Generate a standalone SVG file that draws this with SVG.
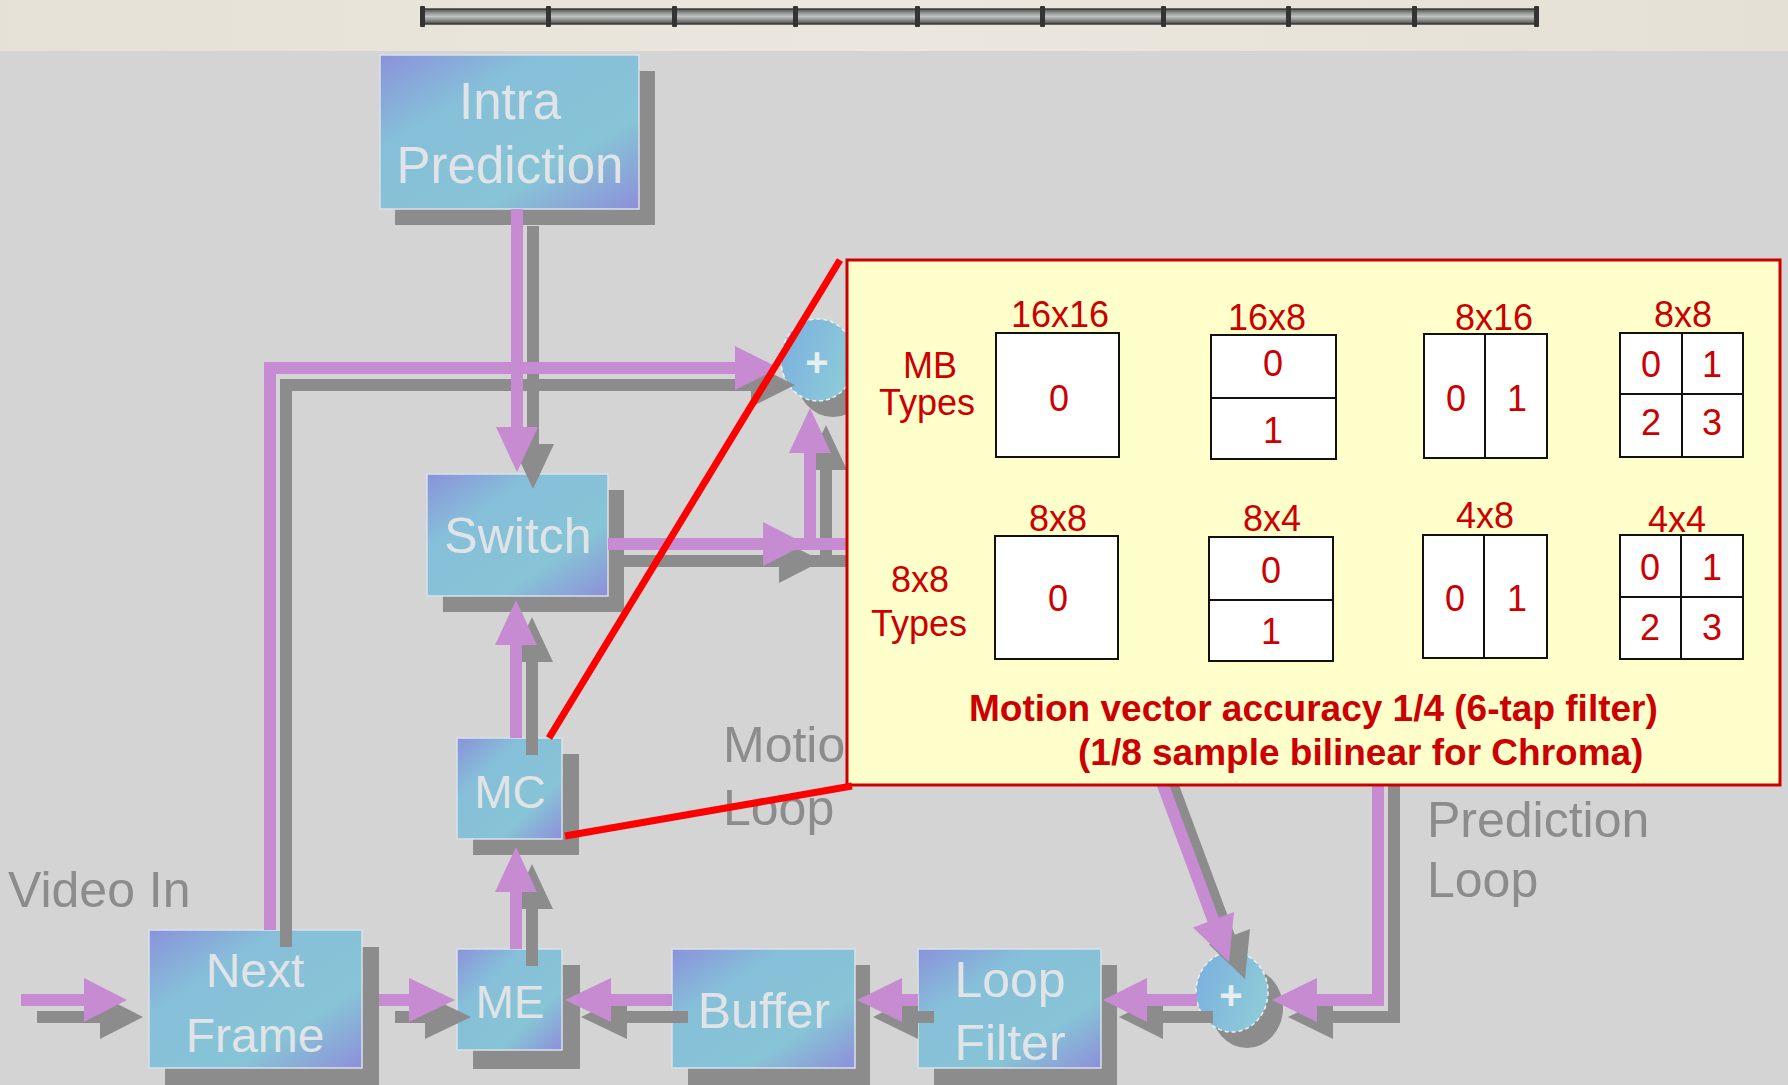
<svg xmlns="http://www.w3.org/2000/svg" xmlns:xlink="http://www.w3.org/1999/xlink" width="1788" height="1085" viewBox="0 0 1788 1085">
<defs>
<style>
.box{fill:url(#boxg);stroke:#d9e1ea;stroke-width:1.5}
.shd{fill:#8c8c8c}
.nt{font-family:"Liberation Sans",Arial,sans-serif;fill:#e0e4e6;text-anchor:middle}
.gl{font-family:"Liberation Sans",Arial,sans-serif;fill:#8c8c8c;font-size:50px}
.rt{font-family:"Liberation Sans",Arial,sans-serif;fill:#cc0000;font-size:36px;text-anchor:middle}
.rb{font-family:"Liberation Sans",Arial,sans-serif;fill:#cc0000;font-size:37px;font-weight:bold}
.cell{fill:#ffffff;stroke:#111;stroke-width:2}
.dv{stroke:#111;stroke-width:2}
.plus{font-family:"Liberation Sans",Arial,sans-serif;fill:#e6eef0;font-size:40px;font-weight:bold;text-anchor:middle}
.seg{fill:url(#barg);stroke:#3c3c3c;stroke-width:1.5}
.sep{fill:#333}
</style>
<linearGradient id="boxg" x1="0" y1="0" x2="1" y2="1">
<stop offset="0" stop-color="#8a92da"/>
<stop offset="0.3" stop-color="#86bfd9"/>
<stop offset="0.7" stop-color="#87c4d6"/>
<stop offset="1" stop-color="#8d8fda"/>
</linearGradient>
<linearGradient id="circg" x1="0" y1="0" x2="1" y2="0.4">
<stop offset="0" stop-color="#7aaee0"/>
<stop offset="1" stop-color="#8ccad8"/>
</linearGradient>
<linearGradient id="barg" x1="0" y1="0" x2="0" y2="1">
<stop offset="0" stop-color="#4e4e4e"/>
<stop offset="0.3" stop-color="#9c9c9c"/>
<stop offset="0.5" stop-color="#c2c2c2"/>
<stop offset="0.75" stop-color="#8a8a8a"/>
<stop offset="1" stop-color="#474747"/>
</linearGradient>
<linearGradient id="beige" x1="0" y1="0" x2="1" y2="0">
<stop offset="0" stop-color="#e6e1d6"/>
<stop offset="0.5" stop-color="#ebe7de"/>
<stop offset="1" stop-color="#e5e0d5"/>
</linearGradient>
<g id="wires">
<path fill="none" stroke-width="12" d="M270,930 V368 H740"/>
<polygon stroke="none" points="735,346 779,368 735,390"/>
<path fill="none" stroke-width="12" d="M517,209 V430"/>
<polygon stroke="none" points="496,427 517,472 538,427"/>
<path fill="none" stroke-width="12" d="M608,544 H900"/>
<polygon stroke="none" points="763,522 806,544 763,566"/>
<path fill="none" stroke-width="12" d="M810,550 V450"/>
<polygon stroke="none" points="789,453 810,408 831,453"/>
<path fill="none" stroke-width="12" d="M516,738 V640"/>
<polygon stroke="none" points="495,645 516,600 537,645"/>
<path fill="none" stroke-width="12" d="M516,949 V888"/>
<polygon stroke="none" points="495,892 516,847 537,892"/>
<path fill="none" stroke-width="12" d="M21,1000 H90"/>
<polygon stroke="none" points="84,978 127,1000 84,1022"/>
<path fill="none" stroke-width="12" d="M379,1000 H412"/>
<polygon stroke="none" points="409,978 455,1000 409,1022"/>
<path fill="none" stroke-width="12" d="M672,1000 H608"/>
<polygon stroke="none" points="611,978 565,1000 611,1022"/>
<path fill="none" stroke-width="12" d="M918,1000 H898"/>
<polygon stroke="none" points="902,978 857,1000 902,1022"/>
<path fill="none" stroke-width="12" d="M1197,1000 H1143"/>
<polygon stroke="none" points="1147,978 1103,1000 1147,1022"/>
<path fill="none" stroke-width="12" d="M1378,700 V1000 H1312"/>
<polygon stroke="none" points="1317,978 1272,1000 1317,1022"/>
<path fill="none" stroke-width="12" d="M1138,718 L1214,922"/>
<polygon stroke="none" points="1234,912 1229,962 1193,927.5"/>
</g>
</defs>

<rect x="0" y="0" width="1788" height="1085" fill="#d4d4d4"/>
<rect x="0" y="0" width="1788" height="51" fill="url(#beige)"/>
<g id="bar">
<rect class="seg" x="422" y="9" width="1115" height="15" rx="3"/>
<rect class="sep" x="420" y="6" width="5" height="21" rx="1"/>
<rect class="sep" x="546" y="6" width="5" height="21" rx="1"/>
<rect class="sep" x="672" y="6" width="5" height="21" rx="1"/>
<rect class="sep" x="793" y="6" width="5" height="21" rx="1"/>
<rect class="sep" x="915" y="6" width="5" height="21" rx="1"/>
<rect class="sep" x="1040" y="6" width="5" height="21" rx="1"/>
<rect class="sep" x="1161" y="6" width="5" height="21" rx="1"/>
<rect class="sep" x="1286" y="6" width="5" height="21" rx="1"/>
<rect class="sep" x="1412" y="6" width="5" height="21" rx="1"/>
<rect class="sep" x="1534" y="6" width="5" height="21" rx="1"/>
</g>

<g id="node-intra">
<rect class="shd" x="395" y="71" width="260" height="154"/>
<rect class="box" x="380" y="55" width="259" height="154"/>
<text class="nt" x="510" y="119" font-size="51">Intra</text>
<text class="nt" x="510" y="183" font-size="51">Prediction</text>
</g>
<g id="node-switch">
<rect class="shd" x="443" y="490" width="181" height="122"/>
<rect class="box" x="427" y="474" width="181" height="122"/>
<text class="nt" x="518" y="553" font-size="50">Switch</text>
</g>
<g id="node-mc">
<rect class="shd" x="473" y="754" width="106" height="101"/>
<rect class="box" x="457" y="738" width="105" height="101"/>
<text class="nt" x="510" y="808" font-size="46">MC</text>
</g>
<g id="node-me">
<rect class="shd" x="473" y="965" width="107" height="104"/>
<rect class="box" x="457" y="949" width="105" height="101"/>
<text class="nt" x="510" y="1018" font-size="46">ME</text>
</g>
<g id="node-nextframe">
<rect class="shd" x="165" y="947" width="214" height="140"/>
<rect class="box" x="149" y="930" width="213" height="138"/>
<text class="nt" x="255" y="987" font-size="48">Next</text>
<text class="nt" x="255" y="1052" font-size="48">Frame</text>
</g>
<g id="node-buffer">
<rect class="shd" x="688" y="965" width="182" height="122"/>
<rect class="box" x="672" y="949" width="183" height="119"/>
<text class="nt" x="764" y="1028" font-size="50">Buffer</text>
</g>
<g id="node-loopfilter">
<rect class="shd" x="934" y="965" width="183" height="122"/>
<rect class="box" x="918" y="949" width="183" height="119"/>
<text class="nt" x="1010" y="997" font-size="50">Loop</text>
<text class="nt" x="1010" y="1060" font-size="50">Filter</text>
</g>
<g id="node-sum-top">
<ellipse class="shd" cx="833" cy="376" rx="37" ry="41"/>
<ellipse cx="818" cy="360" rx="37" ry="41" fill="url(#circg)" stroke="#eef2f4" stroke-width="1.5" stroke-dasharray="4 3"/>
<text class="plus" x="817" y="376">+</text>
</g>
<g id="node-sum-bottom">
<ellipse class="shd" cx="1247" cy="1008" rx="36" ry="40"/>
<ellipse cx="1232" cy="992" rx="36" ry="40" fill="url(#circg)" stroke="#eef2f4" stroke-width="1.5" stroke-dasharray="4 3"/>
<text class="plus" x="1231" y="1009">+</text>
</g>

<g id="connectors">
<use xlink:href="#wires" href="#wires" transform="translate(16,17)" stroke="#8c8c8c" fill="#8c8c8c"/>
<use xlink:href="#wires" href="#wires" stroke="#c68bd1" fill="#c68bd1"/>
</g>

<g id="labels">
<text class="gl" x="8" y="907" font-size="49">Video In</text>
<text class="gl" x="723" y="762">Motion</text>
<text class="gl" x="723" y="825">Loop</text>
<text class="gl" x="1427" y="837">Prediction</text>
<text class="gl" x="1427" y="897">Loop</text>
</g>

<g id="callout">
<rect x="847" y="260" width="933" height="525" fill="#ffffcc" stroke="#cc0000" stroke-width="3"/>
<text class="rt" x="930" y="378">MB</text>
<text class="rt" x="927" y="415">Types</text>
<text class="rt" x="920" y="592">8x8</text>
<text class="rt" x="919" y="636">Types</text>

<text class="rt" x="1060" y="327">16x16</text>
<rect class="cell" x="996" y="333" width="123" height="124"/>
<text class="rt" x="1059" y="411">0</text>

<text class="rt" x="1267" y="330">16x8</text>
<rect class="cell" x="1211" y="335" width="125" height="124"/>
<line class="dv" x1="1211" y1="398" x2="1336" y2="398"/>
<text class="rt" x="1273" y="376">0</text>
<text class="rt" x="1273" y="443">1</text>

<text class="rt" x="1494" y="330">8x16</text>
<rect class="cell" x="1424" y="334" width="123" height="124"/>
<line class="dv" x1="1485" y1="334" x2="1485" y2="458"/>
<text class="rt" x="1456" y="411">0</text>
<text class="rt" x="1517" y="411">1</text>

<text class="rt" x="1683" y="327">8x8</text>
<rect class="cell" x="1620" y="333" width="123" height="124"/>
<line class="dv" x1="1682" y1="333" x2="1682" y2="457"/>
<line class="dv" x1="1620" y1="394" x2="1743" y2="394"/>
<text class="rt" x="1651" y="377">0</text>
<text class="rt" x="1712" y="377">1</text>
<text class="rt" x="1651" y="435">2</text>
<text class="rt" x="1712" y="435">3</text>

<text class="rt" x="1058" y="531">8x8</text>
<rect class="cell" x="995" y="536" width="123" height="123"/>
<text class="rt" x="1058" y="611">0</text>

<text class="rt" x="1272" y="531">8x4</text>
<rect class="cell" x="1209" y="537" width="124" height="124"/>
<line class="dv" x1="1209" y1="600" x2="1333" y2="600"/>
<text class="rt" x="1271" y="583">0</text>
<text class="rt" x="1271" y="644">1</text>

<text class="rt" x="1485" y="528">4x8</text>
<rect class="cell" x="1423" y="535" width="124" height="123"/>
<line class="dv" x1="1484" y1="535" x2="1484" y2="658"/>
<text class="rt" x="1455" y="611">0</text>
<text class="rt" x="1517" y="611">1</text>

<text class="rt" x="1677" y="532">4x4</text>
<rect class="cell" x="1620" y="535" width="123" height="124"/>
<line class="dv" x1="1681" y1="535" x2="1681" y2="659"/>
<line class="dv" x1="1620" y1="597" x2="1743" y2="597"/>
<text class="rt" x="1650" y="580">0</text>
<text class="rt" x="1712" y="580">1</text>
<text class="rt" x="1650" y="640">2</text>
<text class="rt" x="1712" y="640">3</text>

<text class="rb" x="969" y="721">Motion vector accuracy 1/4 (6-tap filter)</text>
<text class="rb" x="1078" y="765">(1/8 sample bilinear for Chroma)</text>
</g>

<g id="zoom-lines" stroke="#ff0000" stroke-width="7" fill="none">
<line x1="549" y1="738" x2="840" y2="260"/>
<line x1="565" y1="836" x2="852" y2="786"/>
</g>
</svg>
